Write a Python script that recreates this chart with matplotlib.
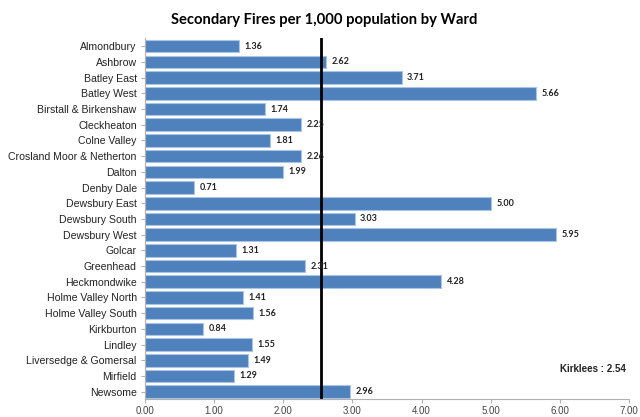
import matplotlib.pyplot as plt

# ward names and secondary fires per 1,000 population
wards = ['Almondbury', 'Ashbrow', 'Batley East', 'Batley West', 'Birstall & Birkenshaw',
         'Cleckheaton', 'Colne Valley', 'Crosland Moor & Netherton', 'Dalton', 'Denby Dale',
         'Dewsbury East', 'Dewsbury South', 'Dewsbury West', 'Golcar', 'Greenhead',
         'Heckmondwike', 'Holme Valley North', 'Holme Valley South', 'Kirkburton', 'Lindley',
         'Liversedge & Gomersal', 'Mirfield', 'Newsome']
rates = [1.36, 2.62, 3.71, 5.66, 1.74, 2.25, 1.81, 2.26, 1.99, 0.71,
         5.00, 3.03, 5.95, 1.31, 2.31, 4.28, 1.41, 1.56, 0.84, 1.55,
         1.49, 1.29, 2.96]
kirklees = 2.54
xticks = [0, 1, 2, 3, 4, 5, 6, 7]

fig = plt.figure(figsize=(6.4, 4.17), dpi=100)
ax = fig.add_axes([0.2266, 0.042, 0.7563, 0.866])

ypos = range(len(wards))
ax.barh(ypos, rates, height=0.8, color='#4F81BD', edgecolor='#A9C4E4', linewidth=0.8)
ax.set_ylim(len(wards) - 0.5, -0.5)
ax.set_yticks(list(ypos))
ax.set_yticklabels(wards, fontsize=7.6, family='Liberation Sans', color='#222222')

# value labels
for y, v in zip(ypos, rates):
    ax.text(v + 0.08, y, '%.2f' % v, va='center', ha='left', fontsize=6.5,
            fontweight='bold', family='Lato', color='#222222')

# district average line
ax.axvline(kirklees, color='black', linewidth=2)
ax.text(0.994, 0.085, 'Kirklees : %.2f' % kirklees, transform=ax.transAxes,
        ha='right', va='center', fontsize=7, fontweight='bold',
        family='Liberation Sans', color='#222222')

ax.set_xlim(0, 7)
ax.set_xticks(xticks)
ax.set_xticklabels(['%.2f' % t for t in xticks], fontsize=7,
                   family='Liberation Sans', color='#444444')

for s in ['top', 'right']:
    ax.spines[s].set_visible(False)
for s in ['left', 'bottom']:
    ax.spines[s].set_color('#B0B0B0')
ax.tick_params(axis='both', color='#B0B0B0', length=3)
ax.tick_params(axis='x', pad=1.5)
ax.tick_params(axis='y', pad=3)

fig.suptitle('Secondary Fires per 1,000 population by Ward', x=0.506, y=0.968,
             fontsize=10.6, fontweight='bold', family='Lato')

fig.savefig('out.png', dpi=100)
